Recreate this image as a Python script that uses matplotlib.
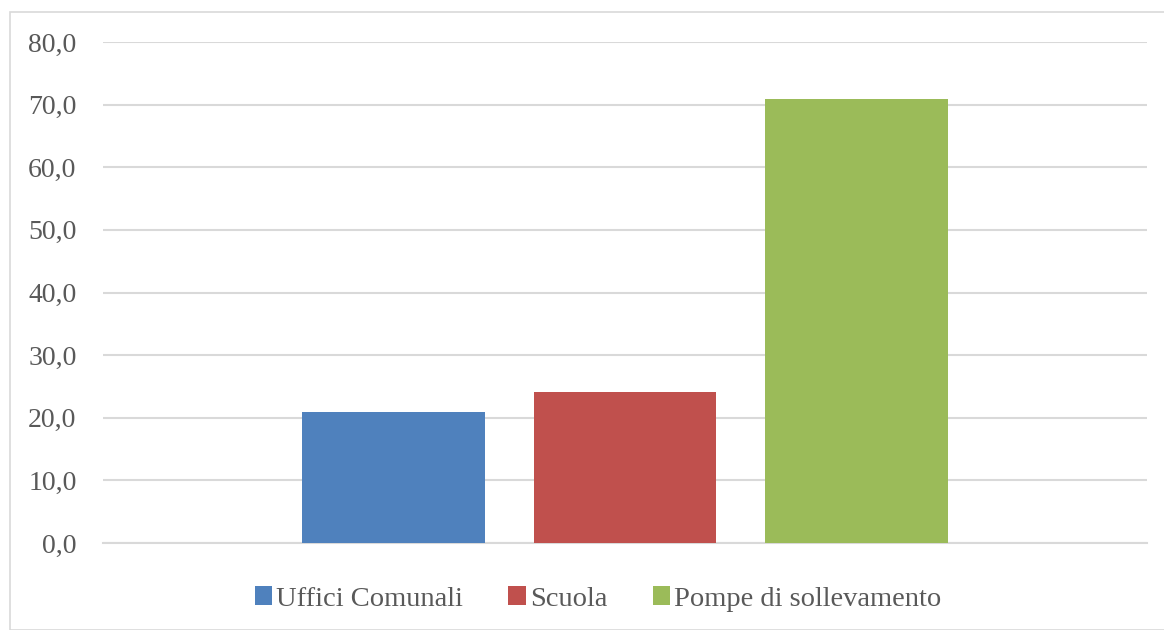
import matplotlib.pyplot as plt
from matplotlib.patches import Rectangle

# series values (one category, three series)
series = ['Uffici Comunali', 'Scuola', 'Pompe di sollevamento']
values = [20.9, 24.1, 70.9]
colors = ['#4f81bd', '#c0504d', '#9bbb59']
yticks = [0, 10, 20, 30, 40, 50, 60, 70, 80]

plt.rcParams['font.family'] = ['Liberation Serif', 'DejaVu Serif']

fig = plt.figure(figsize=(11.64, 6.3), dpi=100)
ax = fig.add_axes([103 / 1164, 1 - 543 / 630, 1044 / 1164, 501 / 630])

# outer chart border
fig.patches.append(Rectangle((10 / 1164, 0 / 630), 1160 / 1164, 618 / 630,
                             transform=fig.transFigure, fill=False,
                             edgecolor='#d9d9d9', linewidth=1.2))

width = 0.175
offsets = [-0.222, 0.0, 0.222]
for name, v, c, off in zip(series, values, colors, offsets):
    ax.bar(off, v, width=width, color=c, label=name, zorder=3)

ax.set_xlim(-0.5, 0.5)
ax.set_ylim(0, 80)
ax.set_yticks(yticks)
ax.set_yticklabels([f'{t:.1f}'.replace('.', ',') for t in yticks])
ax.set_xticks([])
ax.yaxis.grid(True, color='#d9d9d9', linewidth=1.5, zorder=0)
ax.tick_params(axis='y', length=0, pad=19, labelsize=20, labelcolor='#595959')
for s in ['top', 'right', 'left']:
    ax.spines[s].set_visible(False)
ax.spines['bottom'].set_color('#d9d9d9')
ax.spines['bottom'].set_linewidth(1.5)

fig.legend(loc='center', bbox_to_anchor=(598 / 1164, 1 - 599 / 630), ncol=3,
           frameon=False, fontsize=20.5, labelcolor='#595959',
           handlelength=0.6, handleheight=0.6, handletextpad=0.15,
           columnspacing=1.6)

fig.savefig('out.png', dpi=100, facecolor='white')
